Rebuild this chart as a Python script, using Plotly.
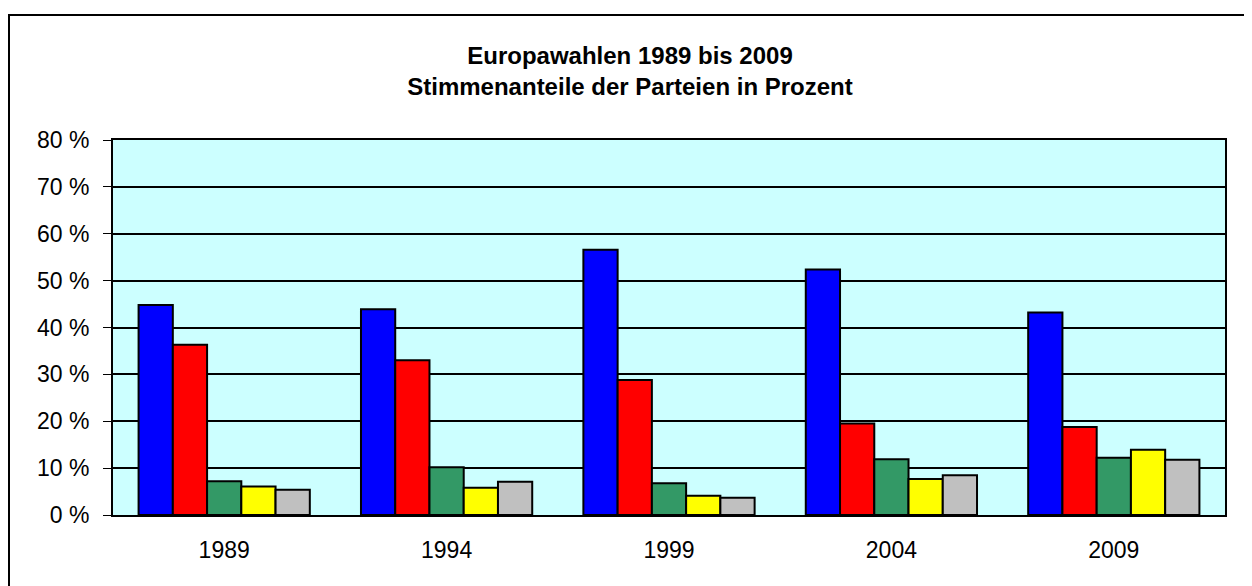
import plotly.graph_objects as go

years = ["1989", "1994", "1999", "2004", "2009"]
series_names = ["Partei A", "Partei B", "Partei C", "Partei D", "Sonstige"]
blue_vals = [44.8, 43.9, 56.6, 52.4, 43.2]
red_vals = [36.3, 33.0, 28.8, 19.5, 18.8]
green_vals = [7.2, 10.2, 6.8, 11.9, 12.2]
yellow_vals = [6.1, 5.8, 4.1, 7.7, 13.9]
gray_vals = [5.4, 7.1, 3.7, 8.5, 11.8]
colors = ["#0000FF", "#FF0000", "#339966", "#FFFF00", "#C0C0C0"]
y_ticks = [0, 10, 20, 30, 40, 50, 60, 70, 80]
y_tick_labels = ["0 %", "10 %", "20 %", "30 %", "40 %", "50 %", "60 %", "70 %", "80 %"]

FONT = "Arial, Liberation Sans, sans-serif"

fig = go.Figure()
for name, vals, col in zip(series_names,
                           [blue_vals, red_vals, green_vals, yellow_vals, gray_vals],
                           colors):
    fig.add_trace(go.Bar(x=years, y=vals, name=name, marker_color=col,
                         marker_line_color="black", marker_line_width=2))

W, H = 1244, 578
L, T, PW, PH = 105, 132, 1112, 375

fig.update_layout(
    width=W, height=H,
    margin=dict(l=L, r=W - L - PW, t=T, b=H - T - PH, pad=0),
    paper_bgcolor="white", plot_bgcolor="#CCFFFF",
    barmode="group", bargap=0.23, bargroupgap=0,
    showlegend=False,
    font=dict(family=FONT, size=23, color="black"),
    title=dict(text="<b>Europawahlen 1989 bis 2009<br>Stimmenanteile der Parteien in Prozent</b>",
               x=0.5, xref="container", xanchor="center",
               y=1 - 55.5 / H, yref="container", yanchor="middle",
               font=dict(size=24, family=FONT, color="black")),
    xaxis=dict(showline=True, linecolor="black", linewidth=2, mirror=True,
               ticks="", ticklabelstandoff=13, tickfont=dict(size=23)),
    yaxis=dict(range=[0, 80], tickmode="array", tickvals=y_ticks, ticktext=y_tick_labels,
               showline=True, linecolor="black", linewidth=2, mirror=True,
               ticks="outside", ticklen=8, tickcolor="black", tickwidth=1,
               showgrid=True, gridcolor="black", gridwidth=2,
               ticklabelstandoff=9, tickfont=dict(size=23), zeroline=False),
    shapes=[dict(type="rect", xref="paper", yref="paper",
                 x0=(1 - L) / PW, x1=1.2, y0=-0.5, y1=(T + PH - 7) / PH,
                 line=dict(color="black", width=2), fillcolor="rgba(0,0,0,0)", layer="below")],
)

fig.write_html("out.html")
